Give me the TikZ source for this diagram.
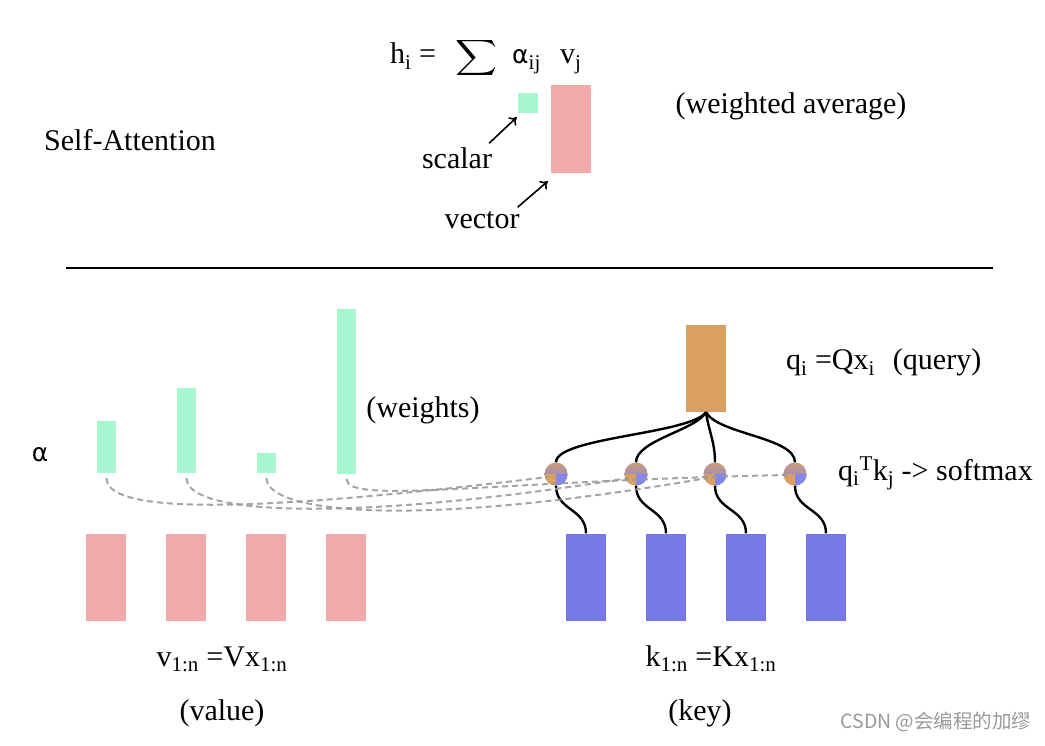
\documentclass[tikz,border=0pt]{standalone}
\usepackage{fontspec}
\usepackage{graphicx}
\setmainfont{Liberation Serif}
\newfontfamily\dejavu{DejaVu Sans}
\newfontfamily\cjk{Noto Sans CJK SC}
\usetikzlibrary{calc,arrows.meta}
\definecolor{grn}{HTML}{A6F6CF}
\definecolor{pnk}{HTML}{F2A9A9}
\definecolor{blu}{HTML}{7579E8}
\definecolor{org}{HTML}{D9A060}
\definecolor{corg}{HTML}{C99A78}
\definecolor{cblu}{HTML}{8A86E2}
\definecolor{dgray}{HTML}{9A9A9A}
\begin{document}
\begin{tikzpicture}[x=1pt,y=-1pt,
  txt/.style={font=\fontsize{30}{36}\selectfont, inner sep=0},
  box/.style={fill=#1, draw=none, inner sep=0, minimum width=40pt, minimum height=87pt},
  wbar/.style={fill=grn, draw=none, inner sep=0, minimum width=19pt, anchor=south},
  dot/.style={circle, inner sep=0, minimum size=23pt, left color=corg, right color=cblu, shading angle=0},
  wire/.style={line width=2.4pt, black},
  dline/.style={line width=2pt, dgray, opacity=0.9, dash pattern=on 6pt off 4pt},
  arr/.style={line width=1.6pt, -{To[length=7pt,width=11pt]}}]
\useasboundingbox (0,0) rectangle (1045,746);
% top section
\node[txt] (title) at (130,140) {Self-Attention};
\node[txt, anchor=base west] (hi) at (390,64) {h\textsubscript{i} =};
\node[inner sep=0] (sum) at (476,58) {\resizebox*{42pt}{40pt}{$\displaystyle\sum$}};
\node[inner sep=0, anchor=base west] (aij) at (512,64) {\fontsize{30}{36}\selectfont{\dejavu\fontsize{25}{30}\selectfont α}\textsubscript{ij}};
\node[txt, anchor=base west] (vj) at (560,64) {v\textsubscript{j}};
\node[fill=grn, inner sep=0, minimum size=20pt] (sq) at (528,103) {};
\node[box=pnk, minimum height=88pt] (vec) at (571,129) {};
\node[txt] (scalar) at (457,158) {scalar};
\node[txt] (vector) at (482,220) {vector};
\node[txt] (wavg) at (791,106) {(weighted average)};
\draw[arr] ($(scalar.north east)+(-3,-4)$) -- ($(sq.south west)+(-1,4)$);
\draw[arr] ($(vector.north east)+(-2,-4)$) -- ($(vec.south west)+(-3,8)$);
% separator
\coordinate (l0) at (66,268);
\coordinate (l1) at (993,268);
\draw[line width=2pt] (l0) -- (l1);
% weights
\node[wbar, minimum height=52pt] (g1) at (106.5,473) {};
\node[wbar, minimum height=85pt] (g2) at (186.5,473) {};
\node[wbar, minimum height=20pt] (g3) at (266.5,473) {};
\node[wbar, minimum height=165pt] (g4) at (346.5,474) {};
\node[inner sep=0, font=\dejavu\fontsize{25}{30}\selectfont] (alpha) at (40,455) {α};
\node[txt] (weights) at (423,410) {(weights)};
% value boxes
\node[box=pnk] (v1) at (106,577) {};
\node[box=pnk] (v2) at (186,577) {};
\node[box=pnk] (v3) at (266,577) {};
\node[box=pnk] (v4) at (346,577) {};
% key boxes
\node[box=blu] (k1) at (586,577) {};
\node[box=blu] (k2) at (666,577) {};
\node[box=blu] (k3) at (746,577) {};
\node[box=blu] (k4) at (826,577) {};
% query
\node[box=org] (q) at (706,368.5) {};
\node[txt, anchor=base west] (qlab) at (786,370) {q\textsubscript{i} =Qx\textsubscript{i}\hspace{0.6em}(query)};
% circles
\node[dot] (c1) at (556,474) {};
\node[dot] (c2) at (636,474) {};
\node[dot] (c3) at (715,474) {};
\node[dot] (c4) at (795,474) {};
\foreach \c in {c1,c2,c3,c4}{
  \fill[blu!90!white] (\c.center) -- (\c.east) arc (0:90:11.5) -- cycle;
  \fill[org] (\c.center) -- (\c.south) arc (90:180:11.5) -- cycle;
}
\node[txt, anchor=base west] (soft) at (838,480) {q\textsubscript{i}\textsuperscript{T}k\textsubscript{j} -> softmax};
% wires from query
\draw[wire] (q.south) .. controls +(-16,22) and +(0,-25) .. (c1.north);
\draw[wire] (q.south) .. controls +(-10,18) and +(0,-22) .. (c2.north);
\draw[wire] (q.south) .. controls +(3,20) and +(0,-20) .. (c3.north);
\draw[wire] (q.south) .. controls +(12,22) and +(0,-25) .. (c4.north);
% wires to keys
\foreach \i in {1,2,3,4}{
  \draw[wire] (c\i.south) .. controls +(0,25) and +(0,-25) .. (k\i.north);
}
% dashed attention lines
\draw[dline] ($(g1.south)+(0,5)$) .. controls +(0,42) and +(-250,30) .. ($(c1.west)+(4,3)$);
\draw[dline] ($(g2.south)+(0,5)$) .. controls +(0,40) and +(-260,42) .. ($(c2.west)+(4,4)$);
\draw[dline] ($(g3.south)+(0,5)$) .. controls +(0,34) and +(-300,52) .. ($(c3.west)+(4,4)$);
\draw[dline] ($(g4.south)+(0,5)$) .. controls +(0,26) and +(-300,6) .. ($(c4.west)+(4,1)$);
% bottom labels
\node[txt, anchor=base] (vlab) at (222,666) {v\textsubscript{1:n} =Vx\textsubscript{1:n}};
\node[txt] (value) at (222,713) {(value)};
\node[txt, anchor=base] (klab) at (711,666) {k\textsubscript{1:n} =Kx\textsubscript{1:n}};
\node[txt] (key) at (700,713) {(key)};
\node[inner sep=0, text=black!40, font=\cjk\fontsize{19.5}{23}\selectfont] (wm) at (936,722) {CSDN @会编程的加缪};
\end{tikzpicture}
\end{document}
